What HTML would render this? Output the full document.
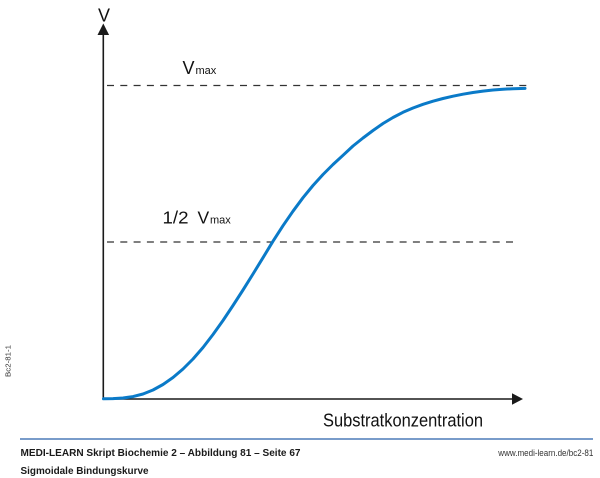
<!DOCTYPE html>
<html><head><meta charset="utf-8"><style>
html,body{margin:0;padding:0;background:#fff;}
svg{display:block;}
text{font-family:"Liberation Sans",sans-serif;}
</style></head><body>
<svg width="600" height="478" viewBox="0 0 600 478" xmlns="http://www.w3.org/2000/svg">
<rect width="600" height="478" fill="#fff"/>
<!-- dashed lines -->
<line x1="107" y1="85.5" x2="527" y2="85.5" stroke="#333" stroke-width="1.3" stroke-dasharray="7,6.3"/>
<line x1="107" y1="242" x2="514" y2="242" stroke="#333" stroke-width="1.3" stroke-dasharray="7,6.3"/>
<!-- axes -->
<line x1="103.3" y1="34" x2="103.3" y2="399.5" stroke="#1a1a1a" stroke-width="1.6"/>
<polygon points="103.3,23.5 97.5,35 109.1,35" fill="#1a1a1a"/>
<line x1="102.5" y1="399" x2="513" y2="399" stroke="#1a1a1a" stroke-width="1.6"/>
<polygon points="523,399 512,393.3 512,404.7" fill="#1a1a1a"/>
<!-- curve -->
<polyline fill="none" stroke="#0a7ac8" stroke-width="3" stroke-linejoin="round" stroke-linecap="round"
points="103.5,398.8 113,398.6 123,398 133,396.6 143,394 153,390 163,384.5 173,377.5 183,369 193,359 203,347.5 213,334.5 223,320.5 233,305.5 243,290 253,274 263,257.7 272.7,241.7 283,225.7 293,211.2 303,197.7 313,185.5 323,174.5 333,164.5 343,155.3 353,146 363,138 373,130.5 383,123.5 393,117.5 403,112.3 413,108 423,104.3 433,101.2 443,98.5 453,96.2 463,94.2 473,92.5 483,91.1 493,90 503,89.2 513,88.7 525,88.4"/>
<!-- labels -->
<text x="98" y="21.5" font-size="18" fill="#111">V</text>
<text x="182.5" y="74" font-size="18" fill="#111">V</text>
<text x="195.5" y="74" font-size="11" fill="#111">max</text>
<text x="162.5" y="223.5" font-size="17.5" fill="#111" textLength="26" lengthAdjust="spacingAndGlyphs">1/2</text>
<text x="197.5" y="223.5" font-size="17.5" fill="#111">V</text>
<text x="210" y="223.5" font-size="11" fill="#111">max</text>
<text x="323" y="426.7" font-size="18" fill="#111" textLength="160" lengthAdjust="spacingAndGlyphs">Substratkonzentration</text>
<!-- side code -->
<text transform="translate(10.5,377) rotate(-90)" font-size="7.5" fill="#333" textLength="32" lengthAdjust="spacingAndGlyphs">Bc2-81-1</text>
<!-- footer -->
<line x1="20" y1="439" x2="593" y2="439" stroke="#4d7bb8" stroke-width="1.4"/>
<text x="20.5" y="456" font-size="10.5" font-weight="bold" fill="#1a1a1a" textLength="280" lengthAdjust="spacingAndGlyphs">MEDI-LEARN Skript Biochemie 2 – Abbildung 81 – Seite 67</text>
<text x="20.5" y="474" font-size="10.5" font-weight="bold" fill="#1a1a1a" textLength="128" lengthAdjust="spacingAndGlyphs">Sigmoidale Bindungskurve</text>
<text x="498.3" y="456" font-size="9" fill="#333" textLength="95" lengthAdjust="spacingAndGlyphs">www.medi-learn.de/bc2-81</text>
</svg>
</body></html>
